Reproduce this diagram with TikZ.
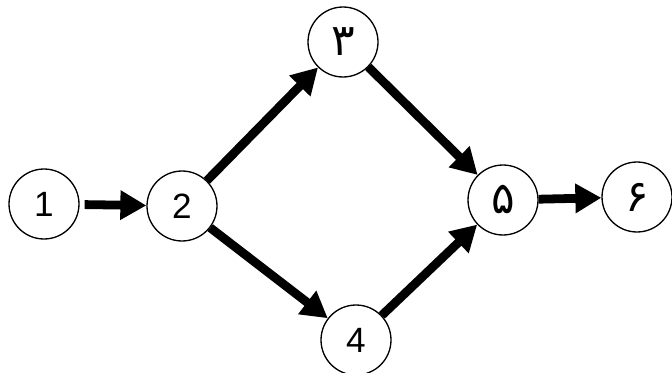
\documentclass[tikz,border=0pt]{standalone}
\usepackage{fontspec}
\setmainfont{Liberation Sans}
\newfontfamily\arabicfont[Script=Arabic, Scale=1.25]{DejaVu Sans}
\usetikzlibrary{arrows.meta}

\tikzset{
  event/.style={draw, circle, line width=0.75pt, minimum size=1.4cm, inner sep=0pt, font=\fontsize{20}{24}\selectfont},
  flow/.style={line width=5pt, -{Triangle[length=0.52cm, width=0.56cm]}}
}

\begin{document}
\begin{tikzpicture}[x=0.02cm, y=-0.02cm]
        \useasboundingbox (0,0) rectangle (672,372);

        % Events
        \node[event] (n1) at (44, 204) {1};
        \node[event] (n2) at (182, 206) {2};
        \node[event] (n3) at (343, 42) {\arabicfont ۳};
        \node[event] (n4) at (356, 340) {4};
        \node[event] (n5) at (503, 200) {\arabicfont ۵};
        \node[event] (n6) at (637, 197) {\arabicfont ۶};

        % Activities
        \draw[flow, shorten <=0.1cm] (n1) -- (n2);
        \draw[flow] (n2) -- (n3);
        \draw[flow] (n2) -- (n4);
        \draw[flow] (n3) -- (n5);
        \draw[flow] (n4) -- (n5);
        \draw[flow] (n5) -- (n6);
    \end{tikzpicture}
\end{document}
